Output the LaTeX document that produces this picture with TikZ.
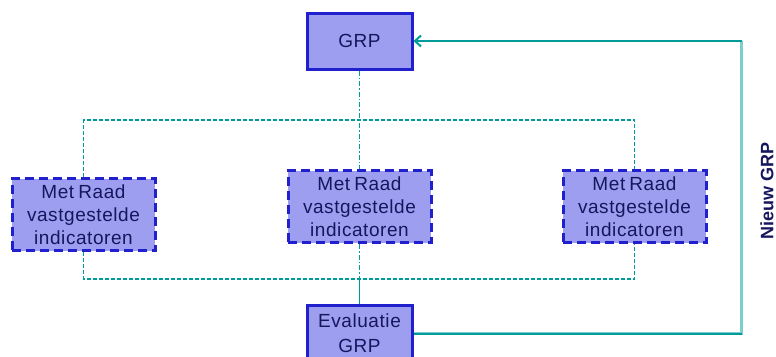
\documentclass[tikz,border=0pt]{standalone}
\usepackage{fontspec}
\setmainfont{Liberation Sans}
\newfontfamily\boxfont[LetterSpace=3,WordSpace=0.7]{Liberation Sans}
\usetikzlibrary{arrows.meta}
\definecolor{boxfill}{RGB}{158,158,240}
\definecolor{boxline}{RGB}{32,32,205}
\definecolor{boxtext}{RGB}{22,22,95}
\definecolor{linkteal}{RGB}{0,155,155}
\definecolor{linklight}{RGB}{125,205,205}
\tikzset{
  x=1pt, y=-1pt,
  box/.style={draw=boxline, fill=boxfill, text=boxtext, line width=3pt,
    align=center, inner sep=0pt, font=\boxfont\fontsize{19}{23}\selectfont},
  indbox/.style={box, dash pattern=on 9pt off 5pt, minimum width=143pt, minimum height=72pt},
  linkdash/.style={draw=linkteal, line width=1.3pt, dash pattern=on 4pt off 2pt},
  linkdashdot/.style={draw=linkteal, line width=1.3pt, dash pattern=on 5pt off 2pt on 1.5pt off 2pt},
  feedback/.style={draw=linkteal, line width=2pt},
}
\begin{document}
\begin{tikzpicture}
\useasboundingbox (0,0) rectangle (776,356);
% main nodes
\node[box, minimum width=105pt, minimum height=56pt] (grp) at (359.5,41) {GRP};
\node[indbox] (left) at (83.5,214.5) {Met Raad\\vastgestelde\\indicatoren};
\node[indbox] (mid) at (359.5,206.5) {Met Raad\\vastgestelde\\indicatoren};
\node[indbox] (right) at (634.5,206.5) {Met Raad\\vastgestelde\\indicatoren};
\node[box, minimum width=105pt, minimum height=57pt, font=\boxfont\fontsize{19}{25}\selectfont] (eval) at (359.5,333.5) {Evaluatie\\GRP};
% indicator network
\draw[linkdashdot] (grp.south) -- (mid.north);
\draw[linkdash] (left.north) -- ++(0,-57) -| (right.north);
\draw[linkdash] (left.south) -- ++(0,27) -| (right.south);
\draw[linkdashdot] (mid.south) -- ++(0,34);
\draw[draw=linkteal, line width=1pt] (mid.south) ++(0,34) coordinate (junc) -- (eval.north);
% feedback loop
\draw[feedback, draw=linklight, line width=2.5pt] (eval.east) -- ++(328,0) coordinate (corner) -- ++(0,-292.5) coordinate (topcorner);
\draw[feedback] (eval.east) -- (corner);
\draw[feedback, -{Straight Barb[length=6pt,width=11pt]}] (topcorner) -- (grp.east);
\node[rotate=90, text=boxtext, inner sep=0pt, font=\bfseries\fontsize{18}{20}\selectfont] (newlabel) at (767,191) {Nieuw GRP};
\end{tikzpicture}
\end{document}
